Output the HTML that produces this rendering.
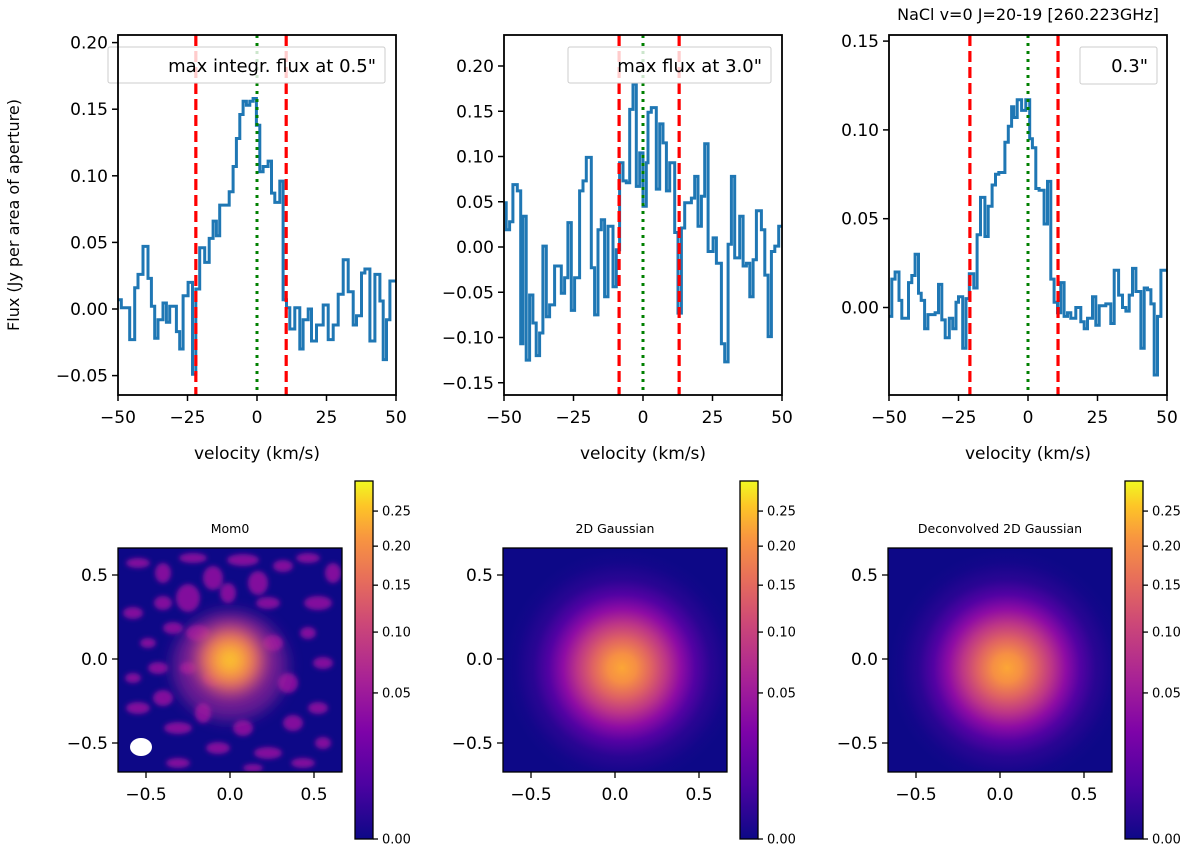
<!DOCTYPE html>
<html><head><meta charset="utf-8"><style>
body{margin:0;background:#fff}
svg{display:block;font-family:"DejaVu Sans","Liberation Sans",sans-serif}
</style></head><body>
<svg id="fig" width="1200" height="849" viewBox="0 0 1200 849" xmlns="http://www.w3.org/2000/svg">
<defs>
<linearGradient id="plasma" x1="0" y1="1" x2="0" y2="0">
<stop offset="0" stop-color="#0d0887"/><stop offset="0.15" stop-color="#4c02a1"/><stop offset="0.3" stop-color="#7e03a8"/><stop offset="0.45" stop-color="#a92395"/><stop offset="0.6" stop-color="#cc4778"/><stop offset="0.72" stop-color="#e66c5c"/><stop offset="0.84" stop-color="#f89540"/><stop offset="0.93" stop-color="#fdc527"/><stop offset="1" stop-color="#f0f921"/>
</linearGradient>
<radialGradient id="gauss" cx="0.5" cy="0.5" r="0.5">
<stop offset="0" stop-color="#fca636"/><stop offset="0.12" stop-color="#f68f44"/><stop offset="0.25" stop-color="#df6263"/><stop offset="0.38" stop-color="#bc3587"/><stop offset="0.5" stop-color="#8e0ca4"/><stop offset="0.62" stop-color="#5402a3"/><stop offset="0.75" stop-color="#2a0593"/><stop offset="0.9" stop-color="#13078a"/><stop offset="1" stop-color="#0d0887"/>
</radialGradient>
<radialGradient id="momcore" cx="0.5" cy="0.5" r="0.5">
<stop offset="0" stop-color="#f7e225"/><stop offset="0.25" stop-color="#fca636"/><stop offset="0.55" stop-color="#e97158"/><stop offset="0.8" stop-color="#c13c81" stop-opacity="0.6"/><stop offset="1" stop-color="#9c179e" stop-opacity="0"/>
</radialGradient>
<filter id="blur" x="-20%" y="-20%" width="140%" height="140%"><feGaussianBlur stdDeviation="2.5"/></filter>
<filter id="blur2" x="-30%" y="-30%" width="160%" height="160%"><feGaussianBlur stdDeviation="7"/></filter>
<clipPath id="clip0"><rect x="118" y="548" width="224" height="224"/></clipPath>
<clipPath id="clip1"><rect x="503" y="548" width="224" height="224"/></clipPath>
<clipPath id="clip2"><rect x="888" y="548" width="224" height="224"/></clipPath>
</defs>
<text x="1028" y="20" font-size="16" text-anchor="middle">NaCl v=0 J=20-19 [260.223GHz]</text>
<text transform="translate(19,215) rotate(-90)" font-size="16" text-anchor="middle">Flux (Jy per area of aperture)</text>
<g id="spectra"></g>
<g id="maps"></g>
</svg>
<script>
// ---- spectrum data ----
const edges1=[-50,-48.8,-45.8,-44,-42.8,-41,-39.2,-38,-36.8,-35.6,-33.8,-32.6,-31.4,-29,-27.8,-26.6,-24.8,-23.2,-22,-20.6,-18.8,-17.2,-15.8,-14.6,-13.4,-11.6,-10,-8.6,-7.4,-6.2,-5,-3.8,-2.6,-1.4,-0.2,1,2.2,4,5.2,6.4,8.2,9.4,10.6,11.8,13.6,15.4,16.6,18.4,19.6,21.4,23.8,25.6,27.4,29.2,31,32.8,34.6,35.8,37.6,38.8,40.6,42.4,44.2,45.4,46.6,47.8];
const flux1=[0.007,0.001,-0.023,0.016,0.026,0.047,0.023,0.002,-0.022,-0.008,0.0045,-0.01,0.002,-0.017,-0.03,0.01,0.02,-0.049,0.015,0.046,0.035,0.053,0.066,0.055,0.078,0.078,0.088,0.107,0.128,0.146,0.156,0.153,0.156,0.158,0.138,0.103,0.107,0.111,0.087,0.08,0.096,0.007,0.001,-0.015,0.001,-0.03,-0.008,0,-0.024,-0.012,0.003,-0.023,-0.012,0.011,0.037,0.013,-0.012,-0.005,0.027,0.03,-0.024,0.026,0.006,-0.038,-0.008,0.021];
const edges2=[-50,-49.2,-48,-46.8,-45.2,-44,-43.2,-42,-40.8,-39.6,-38.4,-37.2,-36,-34.8,-33.6,-31.8,-30.6,-29.4,-28.2,-27,-25.8,-24.6,-22.8,-21.6,-20.4,-18.6,-17.4,-16.2,-15,-13.8,-12.6,-10.8,-9.6,-8.4,-7.2,-6,-4.8,-3.6,-2.4,-1.2,0,1.2,1.8,3,4.8,6,7.2,8.4,9.6,11.4,12.6,13.8,15,17.4,18.6,19.8,21,22.2,23.4,25.2,26.4,28.2,29.4,30.6,31.8,33,34.8,36,37.2,38.4,39.6,40.8,42.6,43.8,45,46.2,47.4,48.8];
const flux2=[0.049,0.019,0.028,0.069,0.062,-0.107,0.034,-0.125,-0.053,-0.084,-0.12,-0.095,0.001,-0.077,-0.064,-0.021,-0.021,-0.051,-0.034,0.027,-0.07,-0.034,0.062,0.073,0.099,-0.023,-0.075,0.019,0.03,-0.055,0.023,-0.044,-0.003,0.093,0.073,0.071,0.152,0.18,0.067,0.104,0.045,0.093,0.149,0.154,0.064,0.136,0.115,0.062,0.093,0.016,-0.073,0.021,0.049,0.054,0.078,0.023,0.056,0.114,-0.005,0.01,-0.018,-0.107,-0.127,0.003,0.078,-0.012,0.034,-0.021,-0.018,-0.055,-0.014,0.04,0.019,-0.031,-0.099,-0.005,0.001,0.023];
const edges3=[-50,-49,-47.8,-46.4,-45.4,-43,-41.8,-40.6,-39.4,-38.4,-37.2,-36,-33.4,-32.2,-31,-29.8,-28.3,-27.1,-25.9,-25,-23.5,-22.3,-21.1,-19.5,-18.3,-17.1,-15.5,-14.3,-12.9,-11.7,-10.5,-8.3,-7.1,-5.9,-5.1,-3.9,-2.3,-0.8,0.6,1.6,2.8,4,5.8,7,8.2,9.4,10.6,11.8,13,14.2,15.4,17.2,19,20.2,21.4,23.2,24.4,25.6,28,29.8,31,32.6,34,35.2,36.4,37.6,38.8,40.6,41.8,43,44.2,45.4,46.6,47.8];
const flux3=[-0.005,0.016,0.02,0.004,-0.006,0.014,0.018,0.03,0.008,0.004,-0.012,-0.004,-0.003,0.013,-0.007,-0.017,-0.006,-0.012,0.003,0.006,-0.023,0.005,0.019,0.011,0.041,0.062,0.04,0.057,0.069,0.075,0.076,0.093,0.102,0.113,0.107,0.117,0.111,0.117,0.095,0.09,0.067,0.066,0.047,0.071,0.016,0.003,-0.003,0.014,-0.005,-0.003,-0.006,0,-0.008,-0.012,-0.006,0.006,-0.01,0.001,0.002,-0.009,0.021,0.007,0,-0.002,0.007,0.022,0.009,-0.023,0.011,0.01,0.002,-0.038,-0.005,0.021];
const xTicks=[-50,-25,0,25,50];
const yTicks1=[-0.05,0,0.05,0.10,0.15,0.20];
const yTicks2=[-0.15,-0.10,-0.05,0,0.05,0.10,0.15,0.20];
const yTicks3=[0,0.05,0.10,0.15];
const redLines1=[-22,10.5], redLines2=[-8.6,13], redLines3=[-20.9,10.8];
const legends=['max integr. flux at 0.5"','max flux at 3.0"','0.3"'];
const cbValues=[0.00,0.05,0.10,0.15,0.20,0.25];
const cbFrac=[0,0.408,0.578,0.709,0.818,0.916];

const NS='http://www.w3.org/2000/svg';
function el(tag,attrs,parent,txt){const e=document.createElementNS(NS,tag);for(const k in attrs)e.setAttribute(k,attrs[k]);if(txt!==undefined)e.textContent=txt;parent.appendChild(e);return e;}
const spec=document.getElementById('spectra');
const panels=[
 {L:118,R:396,T:35,B:395,yPer:-1332,yz:309,edges:edges1,flux:flux1,yt:yTicks1,red:redLines1,leg:[108,47,277,36]},
 {L:504,R:782,T:35,B:395,yPer:-905,yz:247,edges:edges2,flux:flux2,yt:yTicks2,red:redLines2,leg:[568,47,203,36]},
 {L:889,R:1167,T:35,B:395,yPer:-1776,yz:307.5,edges:edges3,flux:flux3,yt:yTicks3,red:redLines3,leg:[1080,47,77,37]}
];
panels.forEach((p,i)=>{
 const g=el('g',{},spec);
 
 
 const X=v=>p.L+(v+50)/100*(p.R-p.L);
 const Y=f=>p.yz+f*p.yPer;
 let d='';
 p.flux.forEach((f,k)=>{const x0=X(p.edges[k]);const x1=X(k+1<p.edges.length?p.edges[k+1]:50);const y=Y(f);d+=(k===0?'M':'L')+x0.toFixed(1)+','+y.toFixed(1)+'L'+x1.toFixed(1)+','+y.toFixed(1);});
 const line=el('path',{d:d,fill:'none',stroke:'#1f77b4','stroke-width':3,'stroke-linejoin':'miter'},g);
 
 
 p.red.forEach(v=>{const r=el('line',{x1:X(v),x2:X(v),y1:p.T,y2:p.B,stroke:'#ff0000','stroke-width':3.2,'stroke-dasharray':'11,5'},g);
  
  });
 const gr=el('line',{x1:X(0),x2:X(0),y1:p.T,y2:p.B,stroke:'#008000','stroke-width':3,'stroke-dasharray':'3,5'},g);
 
 
 const lg=el('rect',{x:p.leg[0],y:p.leg[1],width:p.leg[2],height:p.leg[3],fill:'#fff','fill-opacity':0.8,stroke:'#ccc','stroke-width':1,rx:2},g);
 
 
 const lt=el('text',{x:p.leg[0]+p.leg[2]-9,y:p.leg[1]+25,'font-size':18,'text-anchor':'end'},g,legends[i]);
 
 
 el('rect',{x:p.L,y:p.T,width:p.R-p.L,height:p.B-p.T,fill:'none',stroke:'#000','stroke-width':1.8},g);
 xTicks.forEach(v=>{el('line',{x1:X(v),x2:X(v),y1:p.B,y2:p.B+6,stroke:'#000','stroke-width':1.5},g);
  const t=el('text',{x:X(v),y:p.B+28,'font-size':17,'text-anchor':'middle'},g,(v<0?'\u2212'+(-v):''+v));
  
  });
 p.yt.forEach(v=>{const y=Y(v);el('line',{x1:p.L-6,x2:p.L,y1:y,y2:y,stroke:'#000','stroke-width':1.5},g);
  const s=(v<0?'\u2212':'')+Math.abs(v).toFixed(2);
  const t=el('text',{x:p.L-10,y:y+6,'font-size':17,'text-anchor':'end'},g,s);
  
  });
 const xl=el('text',{x:(p.L+p.R)/2,y:459,'font-size':17,'text-anchor':'middle'},g,'velocity (km/s)');
 
 
});

// ---- maps ----
const maps=document.getElementById('maps');
const mapTitles=['Mom0','2D Gaussian','Deconvolved 2D Gaussian'];
const mapTicks=[-0.5,0,0.5];
[0,1,2].forEach(i=>{
 const ox=i*385, L=118+ox, T=548, S=224, cbx=355+ox;
 const g=el('g',{},maps);
 
 
 const X=v=>L+S/2+v*168;
 const mg=el('g',{'clip-path':'url(#clip'+i+')'},g);
 el('rect',{x:L,y:T,width:S,height:S,fill:'#0d0887'},mg);
 if(i===0){
  const bl=el('g',{filter:'url(#blur)'},mg);
  const blobs=[[20,15,12,5],[45,25,8,10],[75,10,14,5],[95,30,10,12],[125,12,16,6],[140,35,10,12],[165,18,10,6],[190,10,12,5],[215,25,8,10],[200,55,14,7],[190,85,8,6],[15,65,10,6],[45,55,9,7],[70,50,12,14],[110,45,8,10],[150,55,12,6],[30,95,8,5],[55,80,10,6],[80,85,12,8],[205,115,10,6],[15,130,8,5],[40,120,10,6],[20,160,12,6],[45,150,10,8],[60,180,14,6],[85,165,8,10],[100,200,12,6],[125,180,10,8],[150,205,14,6],[175,175,10,8],[200,160,10,6],[205,195,8,6],[185,215,12,5],[135,220,10,4],[60,215,12,5],[95,130,10,8],[170,135,10,10],[155,95,10,8],[70,120,8,6]];
  blobs.forEach(b=>el('ellipse',{cx:L+b[0],cy:T+b[1],rx:b[2],ry:b[3],fill:'#8f13a0','fill-opacity':0.9},bl));
  const b2=el('g',{filter:'url(#blur2)'},mg);
  el('ellipse',{cx:L+112,cy:T+118,rx:58,ry:55,fill:'#a8249b','fill-opacity':0.55},b2);
  el('ellipse',{cx:L+112,cy:T+112,rx:45,ry:45,fill:'url(#momcore)'},b2);
  const beam=el('ellipse',{cx:L+23,cy:T+199,rx:11,ry:9,fill:'#fff'},g);
  
  
 } else {
  el('circle',{cx:L+119,cy:T+120,r:118,fill:'url(#gauss)'},mg);
 }
 el('rect',{x:L,y:T,width:S,height:S,fill:'none',stroke:'#000','stroke-width':1.3},g);
 const tt=el('text',{x:L+S/2,y:T-15,'font-size':12.5,'text-anchor':'middle'},g,mapTitles[i]);
 
 
 mapTicks.forEach(v=>{
  el('line',{x1:X(v),x2:X(v),y1:T+S,y2:T+S+6,stroke:'#000','stroke-width':1.3},g);
  const a=el('text',{x:X(v),y:T+S+28,'font-size':17,'text-anchor':'middle'},g,(v<0?'\u2212':'')+Math.abs(v).toFixed(1));
  
  
  el('line',{x1:L-6,x2:L,y1:659-v*168,y2:659-v*168,stroke:'#000','stroke-width':1.3},g);
  const b=el('text',{x:L-10,y:665-v*168,'font-size':17,'text-anchor':'end'},g,(v<0?'\u2212':'')+Math.abs(v).toFixed(1));
  
  
 });
 const cb=el('rect',{x:cbx,y:481,width:18,height:358,fill:'url(#plasma)',stroke:'#000','stroke-width':1.3},g);
 
 
 cbValues.forEach((v,k)=>{const y=839-cbFrac[k]*358;
  el('line',{x1:cbx+18,x2:cbx+23,y1:y,y2:y,stroke:'#000','stroke-width':1.3},g);
  const t=el('text',{x:cbx+27,y:y+4.5,'font-size':13},g,v.toFixed(2));
  
  });
});
</script>
</body></html>
